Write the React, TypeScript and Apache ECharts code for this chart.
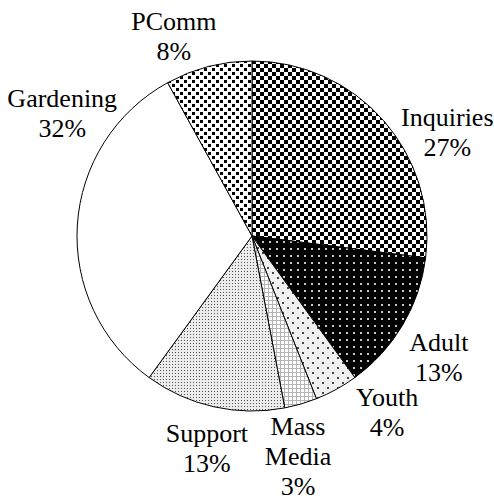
import React, { useEffect, useRef } from 'react';
import * as echarts from 'echarts';

// ---- data ----
const categories: string[] = ['Inquiries', 'Adult', 'Youth', 'Mass Media', 'Support', 'Gardening', 'PComm'];
const percentValues: number[] = [27, 13, 4, 3, 13, 32, 8];

// ---- layout (label placement around the pie) ----
const CX = 252;
const CY = 236;
const R = 175;
const labelAngleShift: number[] = [13.5, 2.5, -8.7, 4.4, -0.6, 29.3, -7];
const labelDistance: number[] = [221, 223, 222, 225, 217, 226, 214];
const FONT = "'Liberation Serif', 'Times New Roman', Times, serif";

type Tile = { image: string; imageWidth: number; imageHeight: number; repeat: string };

function makeTile(w: number, h: number, bg: string, draw: (ctx: CanvasRenderingContext2D) => void): Tile {
  const c = document.createElement('canvas');
  c.width = w;
  c.height = h;
  const ctx = c.getContext('2d')!;
  ctx.fillStyle = bg;
  ctx.fillRect(0, 0, w, h);
  draw(ctx);
  return { image: c.toDataURL(), imageWidth: w, imageHeight: h, repeat: 'repeat' };
}

function buildPatterns(): any[] {
  const checker = makeTile(8, 8, '#ffffff', (ctx) => {
    ctx.fillStyle = '#000';
    ctx.fillRect(0, 0, 4, 4);
    ctx.fillRect(4, 4, 4, 4);
  });
  const darkDots = makeTile(7, 7, '#000000', (ctx) => {
    ctx.fillStyle = '#c8c8c8';
    ctx.fillRect(3, 3, 2, 2);
  });
  const sparseDots = makeTile(10, 10, '#f0f0f0', (ctx) => {
    ctx.fillStyle = '#444';
    ctx.fillRect(2, 2, 2, 2);
    ctx.fillRect(7, 7, 2, 2);
  });
  const grid = makeTile(4, 4, '#ffffff', (ctx) => {
    ctx.fillStyle = '#b5b5b5';
    ctx.fillRect(0, 0, 4, 1);
    ctx.fillRect(0, 0, 1, 4);
  });
  const fineDots = makeTile(3, 3, '#ececec', (ctx) => {
    ctx.fillStyle = '#555';
    ctx.fillRect(1, 1, 1, 1);
  });
  const white = '#ffffff';
  const blackDots = makeTile(8, 8, '#ffffff', (ctx) => {
    ctx.fillStyle = '#000';
    ctx.fillRect(0, 0, 3, 3);
    ctx.fillRect(4, 4, 3, 3);
  });
  return [checker, darkDots, sparseDots, grid, fineDots, white, blackDots];
}

export default function App() {
  const ref = useRef<HTMLDivElement>(null);

  useEffect(() => {
    if (!ref.current) return;
    const chart = echarts.init(ref.current, null, { renderer: 'svg' });
    const patterns = buildPatterns();
    const total = percentValues.reduce((a, b) => a + b, 0);
    const midAngles: number[] = [];
    let acc = 0;
    percentValues.forEach((v) => {
      midAngles.push(((acc + v / 2) / total) * 360);
      acc += v;
    });

    const data = categories.map((name, i) => ({
      name,
      value: percentValues[i],
      itemStyle: { color: patterns[i] },
    }));

    chart.setOption({
      animation: false,
      backgroundColor: '#ffffff',
      textStyle: { fontFamily: FONT },
      series: [
        {
          type: 'pie',
          center: [CX, CY],
          radius: R,
          startAngle: 90,
          clockwise: true,
          data,
          itemStyle: { borderColor: '#000', borderWidth: 1 },
          emphasis: { disabled: true },
          labelLine: { show: false },
          avoidLabelOverlap: false,
          label: {
            show: true,
            position: 'outside',
            fontFamily: FONT,
            fontSize: 26,
            lineHeight: 30,
            color: '#000',
            align: 'center',
            overflow: 'none',
            formatter: (p: any) => `${String(p.name).replace(' ', '\n')}\n${p.value}%`,
          },
          labelLayout: (p: any) => {
            const i = p.dataIndex;
            const a = ((midAngles[i] + labelAngleShift[i]) * Math.PI) / 180;
            const d = labelDistance[i];
            return {
              x: CX + d * Math.sin(a),
              y: CY - d * Math.cos(a),
              align: 'center',
              verticalAlign: 'middle',
            };
          },
        },
      ],
    });
    return () => chart.dispose();
  }, []);

  return (
    <div
      ref={ref}
      style={{ position: 'fixed', left: 0, top: 0, width: 494, height: 504, background: '#fff' }}
    />
  );
}
